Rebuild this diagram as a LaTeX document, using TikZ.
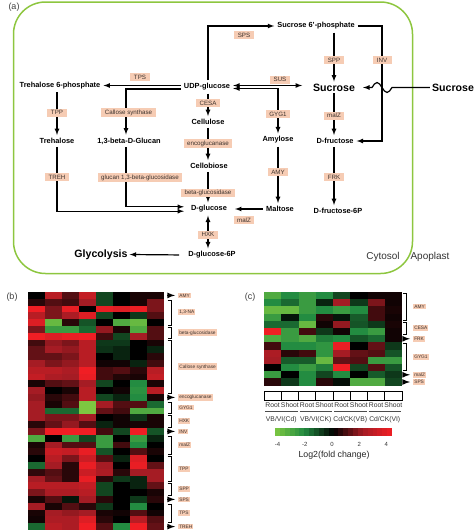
\documentclass[tikz,border=0pt]{standalone}
\usepackage{fontspec}
\setmainfont{Liberation Sans}

\definecolor{cytogreen}{RGB}{141,198,63}
\definecolor{enzfill}{RGB}{246,204,180}
\definecolor{enztext}{RGB}{60,50,45}
\definecolor{hmgmid}{RGB}{35,140,65}
\definecolor{hmglight}{RGB}{125,200,65}
\definecolor{hmrmid}{RGB}{165,28,36}
\definecolor{hmrlight}{RGB}{240,30,36}

% colour of one heatmap cell, value -4..4
\newcommand{\setcellcolor}[1]{%
  \pgfmathsetmacro\cellabs{abs(#1)}%
  \pgfmathsetmacro\celllo{min(\cellabs,2)*50}%
  \pgfmathsetmacro\cellhi{max(\cellabs-2,0)*50}%
  \pgfmathtruncatemacro\cellneg{(#1<0)}%
  \ifnum\cellneg=1
    \colorlet{cellc}{hmgmid!\celllo!black}\colorlet{cellc}{hmglight!\cellhi!cellc}%
  \else
    \colorlet{cellc}{hmrmid!\celllo!black}\colorlet{cellc}{hmrlight!\cellhi!cellc}%
  \fi}

\tikzset{
  met/.style={font=\fontsize{7.4}{8}\selectfont\bfseries, inner sep=3pt},
  bigmet/.style={font=\fontsize{10.6}{12}\selectfont\bfseries, inner sep=2pt},
  enz/.style={fill=enzfill, text=enztext, font=\fontsize{6.2}{7}\selectfont, inner xsep=3.5pt, inner ysep=1.2pt, minimum height=8pt, minimum width=19pt},
  flow/.style={line width=1.2pt, -latex},
  hmlbl/.style={fill=enzfill, text=enztext, font=\fontsize{4.8}{5}\selectfont, inner sep=1.1pt, anchor=west},
  brk/.style={line width=.6pt},
  rowarrow/.style={line width=1.6pt, -latex},
  panel/.style={font=\fontsize{9}{10}\selectfont, text=black!75},
  compart/.style={font=\fontsize{10}{11}\selectfont, text=black!80},
  small/.style={font=\fontsize{6.8}{7}\selectfont, text=black!80, inner sep=.5pt}
}

\begin{document}
\begin{tikzpicture}[x=1pt,y=-1pt]
\useasboundingbox (0,0) rectangle (474,530);

% (a) cytosol border
\draw[cytogreen, line width=1.5pt, rounded corners=32pt] (13.5,2) rectangle (412.5,273.5);
\node[panel] (pa) at (14,7) {(a)};

% metabolites
\node[met] (T6P) at (60,85.5) {Trehalose 6-phosphate};
\node[met] (UDPG) at (207,87) {UDP-glucose};
\node[met] (S6P) at (316,26) {Sucrose 6'-phosphate};
\node[bigmet] (Suc) at (334,87.5) {Sucrose};
\node[bigmet] (SucA) at (453,87.5) {Sucrose};
\node[met] (Tre) at (57,141) {Trehalose};
\node[met] (Glucan) at (129,141) {1,3-beta-D-Glucan};
\node[met] (Cellu) at (208,122) {Cellulose};
\node[met] (Cellob) at (209,166) {Cellobiose};
\node[met] (Amyl) at (278,140) {Amylose};
\node[met] (Dfru) at (335,141) {D-fructose};
\node[met] (Malt) at (280,209) {Maltose};
\node[met] (Dfru6P) at (338,211) {D-fructose-6P};
\node[met] (Dglc) at (209,209) {D-glucose};
\node[met] (Dglc6P) at (212,255) {D-glucose-6P};
\node[bigmet] (Glyco) at (101,254.5) {Glycolysis};
\node[compart] (Cyto) at (383,257) {Cytosol};
\node[compart] (Apo) at (430,257) {Apoplast};

% reactions
\draw[flow] (UDPG.west |- T6P.east) -- (T6P.east);
\draw[flow] ([yshift=-2pt]UDPG.west) -| ([xshift=-3pt]Glucan.north);
\draw[flow] (Tre.north |- T6P.south) -- (Tre.north);
\draw[flow] (Tre.south) |- ([yshift=-2.2pt,xshift=-4pt]Dglc.west);
\draw[flow] ([xshift=-3pt]Glucan.south) |- ([yshift=2.2pt,xshift=-4pt]Dglc.west);
\draw[flow] (UDPG.north -| Cellu) |- (S6P.west);
\draw[flow] (Cellu.north |- UDPG.south) -- (Cellu.north);
\draw[flow] (Cellu.south) -- (Cellu.south |- Cellob.north);
\draw[flow] (Cellob.south -| Cellu) -- (Dglc.north -| Cellu);
\draw[flow, latex-latex] (Dglc.south -| Cellu) -- (Dglc6P.north -| Cellu);
\draw[flow, shorten <=6pt] (Dglc6P.west) -- (Glyco.east);
\coordinate (susR) at (302,85.5);
\draw[flow, latex-latex] (UDPG.east |- susR) -- (susR);
\draw[flow, latex-latex] ([yshift=-1.5pt]UDPG.east) -| (Amyl.north);
\draw[flow] (Suc.north |- S6P.south) -- (Suc.north);
\draw[flow] (Suc.south) -- (Suc.south |- Dfru.north);
\coordinate (invT) at (382,26);
\draw[flow] (S6P.east) -- (invT) |- (Dfru.east);
\draw[flow] (SucA.west) -- (392,87.5) sin (387,92.5) cos (382,87.5) sin (377,82.5) cos (372,87.5) -- ([xshift=6pt]Suc.east);
\draw[flow] (Suc.south |- Dfru.south) -- (Suc.south |- Dfru6P.north);
\draw[flow] (Amyl.south) -- (Amyl.south |- Malt.north);
\draw[flow] (Malt.west) -- ([xshift=5pt]Dglc.east);

% enzymes
\node[enz] (eTPS) at (140,77) {TPS};
\node[enz] (eSPS) at (244,35) {SPS};
\node[enz] (eSUS) at (280,79.5) {SUS};
\node[enz] (eINV) at (382,60) {INV};
\node[enz] (eSPP) at (334,60) {SPP};
\node[enz] (eTPP) at (57,112.5) {TPP};
\node[enz] (eCall) at (128.5,112.5) {Callose synthase};
\node[enz] (eCESA) at (208,103) {CESA};
\node[enz] (eGYG) at (278,114) {GYG1};
\node[enz] (eMalZa) at (334,115.5) {malZ};
\node[enz] (eEndo) at (208,143.5) {encoglucanase};
\node[enz] (eTREH) at (57,177) {TREH};
\node[enz] (eGluc) at (140,177.5) {glucan 1,3-beta-glucosidase};
\node[enz] (eAMY) at (278,172) {AMY};
\node[enz] (eFRK) at (334,177) {FRK};
\node[enz] (eBgl) at (208,193) {beta-glucosidase};
\node[enz] (eMalZb) at (244,220) {malZ};
\node[enz] (eHXK) at (208,234.5) {HXK};

% (b) heatmap
\node[panel] (pb) at (12,297) {(b)};
\foreach \rowvals [count=\r] in {
  {0,2.5,1,2.8,-1,0,.3,.3},{.5,1,.8,2,-1,0,.3,1.5},{4,1.5,3.8,0,3.8,3.5,4,1.5},
  {2.5,1.5,2.2,3.5,-1,0,-.8,1},{3.5,-3.5,.5,-1.2,0,-3,-3.5,0},{1.5,-2.5,-2.5,-1.5,1.8,.3,-3,1},
  {4,3.5,3.8,4,.8,-1,2,1},{.8,1.8,1.5,2.5,-.8,-.8,0,.3},{1.2,2,1.8,2.5,-.7,-.5,0,-.5},
  {1.2,1.2,1.5,2.5,0,-.5,0,.5},{2,1.5,1.8,2.5,.2,.2,-.5,.8},{2.5,2.5,2.2,4,.8,1,.5,2.5},
  {2.8,2.2,2,3.8,.8,.4,.3,2.8},{.3,1,1.2,2,-1,0,-2,.3},{2,0,.3,2.5,0,.2,-2.2,2.5},
  {1.8,.5,.8,2.5,-1,-.5,-2,.3},{2,.3,1,-4,2,1,1,-1.5},{2,-1.5,-1.5,-4,1.2,.8,-3,-3},
  {2,1.5,1.5,2,0,.2,-.8,.3},{.5,1.2,1.8,1,-.5,.2,.3,.3},{1.5,4,4,4,.8,-1,4,-1.2},
  {-3,0,-2.5,-1,-2.5,0,-2.5,-.5},{.3,2,1,1,-2.5,.8,-2,0},{.5,3,2.8,3.8,-1.2,0,1,.3},
  {0,2.5,1.5,3,1,-.5,3.5,0},{-1.5,2,.5,3.8,2,0,3.8,1.2},{.6,1,.5,3,2.2,.5,2,2},
  {2,1.2,.5,3.8,.5,-.8,-.5,2},{2.5,2.5,2.5,2.8,-1,0,-.5,1.2},{1.5,2.2,2.2,2.5,-1,0,0,.3},
  {.3,1,-.3,2,.5,0,-.8,.5},{2,.3,1,.5,-.8,0,-2,0},{.3,2,1.8,2,.3,.2,1,.2},
  {.2,2.2,2.2,3.5,.5,0,2.5,1},{-1.5,2.5,2.2,4,1,-2,4,1.2}}{
  \foreach \v [count=\c] in \rowvals {
    \setcellcolor{\v}
    \fill[cellc] ({28+(\c-1)*17},{292+(\r-1)*6.8}) rectangle ++(17.3,7.1);
  }
}
% (b) gene groups
\foreach \ra/\rb/\name/\txt in {2/5/NA/{1,3-NA},6/7/Bgl/beta-glucosidase,8/15/Call/Callose synthase,
  17/18/GYG/GYG1,19/20/HXK/HXK,22/24/malZ/malZ,25/28/TPP/TPP,29/30/SPP/SPP,32/34/TPS/TPS}{
  \draw[brk] (167.5,{292+(\ra-1)*6.8+1}) -- (171.5,{292+(\ra-1)*6.8+1}) -- (171.5,{292+\rb*6.8-1}) -- (167.5,{292+\rb*6.8-1});
  \node[hmlbl] (bl\name) at (178,{292+(\ra+\rb-1)*3.4}) {\txt};
}
\foreach \r/\name/\txt in {1/AMY/AMY,16/Endo/encoglucanase,21/INV/INV,31/SPS/SPS,35/TREH/TREH}{
  \node[hmlbl] (bl\name) at (178,{292+(\r-.5)*6.8}) {\txt};
  \draw[rowarrow] ([xshift=-11pt]bl\name.west) -- ([xshift=-3pt]bl\name.west);
}

% (c) heatmap
\node[panel] (pc) at (250,297) {(c)};
\foreach \rowvals [count=\r] in {
  {-3,-2,-2.5,-2,-1,0,.2,.2},{-2,-1.5,-2.5,-.5,2,-.8,1.5,.2},{-3.5,-3.5,-2.5,-2,-2.5,-2,.8,.3},
  {-2.5,-.3,-2,.5,-.3,-1.3,.8,.2},{-1.5,-1.5,-3.5,.2,1.8,-1.2,-.8,.3},{4,-2.5,.8,-.8,.2,-2,-2.5,.2},
  {-3,-2.5,-3,-1.8,-2,-1.2,-1.5,.2},{.8,-2,-2,-2.3,3.8,0,1.2,-.8},{2.2,.5,.8,-2.3,2,1.2,1,-1.2},
  {2,-1.3,-1.3,-3.5,1.2,1,-2.5,-2.5},{0,-2,-2.5,-1.8,4,-1,1,-1.2},{-2.5,0,-2,-1,-2,0,-1.3,-.8},
  {.5,-.8,-2,.5,-.2,-3,-3,-1}}{
  \foreach \v [count=\c] in \rowvals {
    \setcellcolor{\v}
    \fill[cellc] ({264+(\c-1)*17.25},{292+(\r-1)*7.2}) rectangle ++(17.55,7.5);
  }
}
% (c) gene groups
\foreach \ra/\rb/\name/\txt in {1/4/AMY/AMY,5/6/CESA/CESA,8/11/GYG/GYG1}{
  \draw[brk] (403,{292+(\ra-1)*7.2+1}) -- (406.5,{292+(\ra-1)*7.2+1}) -- (406.5,{292+\rb*7.2-1}) -- (403,{292+\rb*7.2-1});
  \node[hmlbl] (cl\name) at (413,{292+(\ra+\rb-1)*3.6}) {\txt};
}
\foreach \r/\name/\txt in {7/FRK/FRK,12/malZ/malZ,13/SPS/SPS}{
  \node[hmlbl] (cl\name) at (413,{292+(\r-.5)*7.2}) {\txt};
  \draw[rowarrow] ([xshift=-10pt]cl\name.west) -- ([xshift=-3pt]cl\name.west);
}

% (c) samples
\foreach \t [count=\c from 0] in {Root,Shoot,Root,Shoot,Root,Shoot,Root,Shoot}{
  \draw[line width=.8pt] ({264+\c*17.25},391) rectangle ++(17.25,9);
  \node[small] (cs\c) at ({264+(\c+.5)*17.25},405.5) {\t};
}
\foreach \g [count=\k from 0] in {VB/VI(Cd),VB/VI(CK),Cd/CK(VB),Cd/CK(VI)}{
  \draw[line width=.6pt, black!70] ({265+\k*34.5},411.5) -- ++(32.5,0);
  \node[small] (cg\k) at ({264+(\k+.5)*34.5},420) {\g};
}

% colour key
\foreach \i in {0,...,23}{
  \pgfmathsetmacro\v{-4+(\i+.5)/3}
  \setcellcolor{\v}
  \fill[cellc] ({275+\i*4.875},428) rectangle ++(5.1,8);
}
\foreach \t [count=\k] in {-4,-2,0,2,4}
  \node[font=\fontsize{6}{7}\selectfont, text=black!80] (tk\k) at ({332+\t*13.6},444) {\t};
\node[font=\fontsize{8.8}{10}\selectfont, text=black!85] (keylbl) at (334,455) {Log2(fold change)};

\end{tikzpicture}
\end{document}
